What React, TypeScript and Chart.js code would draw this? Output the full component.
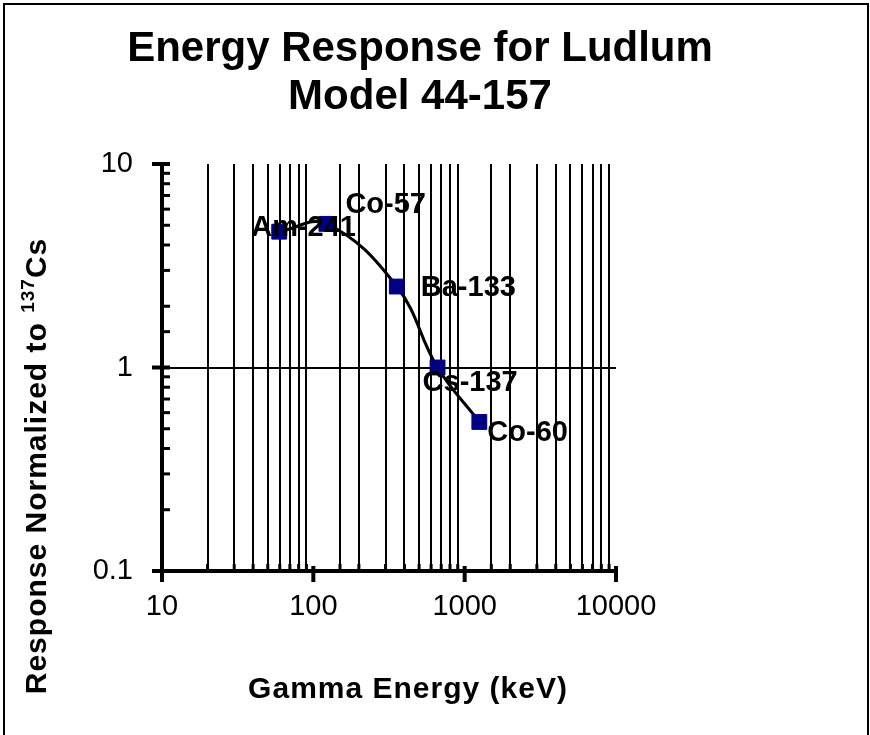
import React, { useEffect, useRef } from 'react';
import { Chart, registerables } from 'chart.js';

Chart.register(...registerables);

// ---- data ----
const isotopes = ['Am-241', 'Co-57', 'Ba-133', 'Cs-137', 'Co-60'];
const energiesKeV = [59.5, 122, 356, 662, 1250];
const responses = [4.65, 5.08, 2.5, 1.0, 0.54];
const xTickLabels = ['10', '100', '1000', '10000'];
const yTickLabels = ['0.1', '1', '10'];
const titleLines = ['Energy Response for Ludlum', 'Model 44-157'];
const xAxisTitle = 'Gamma Energy (keV)';
const yAxisTitleParts = ['Response Normalized to ', '137', 'Cs'];

// label placement relative to each marker (text left edge, text middle), px
const labelOffsets = [
  [-28, -4],
  [19, -19],
  [24, 1],
  [-15, 15],
  [8, 11],
];

const FONT = '"Liberation Sans", Arial, sans-serif';

const isPow10 = (v: number) => {
  const l = Math.log10(v);
  return Math.abs(l - Math.round(l)) < 1e-9;
};

const findLabel = (labels: string[], v: number) =>
  labels.find((l) => Math.abs(Number(l) - v) < 1e-9) ?? '';

const decorPlugin = {
  id: 'decor',
  afterDraw(chart: any) {
    const { ctx, chartArea: a } = chart;
    const xs = chart.scales.x;
    const ys = chart.scales.y;
    ctx.save();
    ctx.strokeStyle = '#000';
    ctx.fillStyle = '#000';

    // outer frame
    ctx.lineWidth = 2;
    ctx.strokeRect(4, 4, 864, 800);

    const seg = (x1: number, y1: number, x2: number, y2: number, w: number) => {
      ctx.lineWidth = w;
      ctx.beginPath();
      ctx.moveTo(x1, y1);
      ctx.lineTo(x2, y2);
      ctx.stroke();
    };

    // axis lines
    seg(a.left, a.top - 2, a.left, a.bottom + 2, 4);
    seg(a.left - 2, a.bottom, a.right + 2, a.bottom, 4);

    // x tick marks
    xs.ticks.forEach((t: any) => {
      const px = xs.getPixelForValue(t.value);
      if (isPow10(t.value)) seg(px, a.bottom - 5, px, a.bottom + 11, 4);
      else seg(px, a.bottom - 7, px, a.bottom, 3);
    });
    // y tick marks
    ys.ticks.forEach((t: any) => {
      const py = ys.getPixelForValue(t.value);
      if (isPow10(t.value)) seg(a.left - 10, py, a.left + 8, py, 4);
      else seg(a.left, py, a.left + 8, py, 3);
    });

    // title
    ctx.textAlign = 'center';
    ctx.textBaseline = 'alphabetic';
    ctx.font = `bold 42px ${FONT}`;
    ctx.fillText(titleLines[0], 420, 61);
    ctx.fillText(titleLines[1], 420, 109);

    // x axis title
    ctx.font = `bold 30px ${FONT}`;
    (ctx as any).letterSpacing = '1px';
    ctx.textBaseline = 'middle';
    ctx.fillText(xAxisTitle, 408, 690);

    // y axis title (rotated, with superscript)
    ctx.save();
    ctx.translate(38, 466);
    ctx.rotate(-Math.PI / 2);
    ctx.textAlign = 'left';
    ctx.textBaseline = 'middle';
    const mainFont = `bold 30px ${FONT}`;
    const supFont = `bold 19px ${FONT}`;
    ctx.font = mainFont;
    const w0 = ctx.measureText(yAxisTitleParts[0]).width;
    const w2 = ctx.measureText(yAxisTitleParts[2]).width;
    ctx.font = supFont;
    const w1 = ctx.measureText(yAxisTitleParts[1]).width;
    let cx = -(w0 + w1 + w2) / 2;
    ctx.font = mainFont;
    ctx.fillText(yAxisTitleParts[0], cx, 0);
    cx += w0;
    ctx.font = supFont;
    ctx.fillText(yAxisTitleParts[1], cx, -9);
    cx += w1;
    ctx.font = mainFont;
    ctx.fillText(yAxisTitleParts[2], cx, 0);
    ctx.restore();
    (ctx as any).letterSpacing = '0px';

    // data labels
    const meta = chart.getDatasetMeta(0);
    ctx.font = `bold 29px ${FONT}`;
    ctx.textAlign = 'left';
    ctx.textBaseline = 'middle';
    meta.data.forEach((pt: any, i: number) => {
      const [dx, dy] = labelOffsets[i];
      ctx.fillText(isotopes[i], pt.x + dx, pt.y + dy);
    });

    ctx.restore();
  },
};

export default function App() {
  const ref = useRef<HTMLCanvasElement>(null);

  useEffect(() => {
    const canvas = ref.current;
    if (!canvas) return;
    const chart = new Chart(canvas, {
      type: 'scatter',
      data: {
        datasets: [
          {
            data: energiesKeV.map((e, i) => ({ x: e, y: responses[i] })),
            showLine: true,
            tension: 0.4,
            borderColor: '#000',
            borderWidth: 3,
            pointStyle: 'rect',
            pointRadius: 10.5,
            pointBackgroundColor: '#000080',
            pointBorderColor: '#000080',
            pointBorderWidth: 1,
          },
        ],
      },
      options: {
        responsive: false,
        animation: false,
        devicePixelRatio: 1,
        events: [],
        layout: { padding: { left: 0, top: 164, right: 254, bottom: 0 } },
        plugins: {
          legend: { display: false },
          tooltip: { enabled: false },
          title: { display: false },
        },
        scales: {
          x: {
            type: 'logarithmic',
            min: 10,
            max: 10000,
            afterFit: (s: any) => {
              s.height = 164;
            },
            border: { display: false },
            grid: {
              drawTicks: false,
              lineWidth: 2,
              color: (c: any) => (c.tick && !isPow10(c.tick.value) ? '#000' : 'rgba(0,0,0,0)'),
            },
            ticks: {
              autoSkip: false,
              maxRotation: 0,
              padding: 19,
              color: '#000',
              font: { family: FONT, size: 29 },
              callback: (v: any) => findLabel(xTickLabels, Number(v)),
            },
          },
          y: {
            type: 'logarithmic',
            min: 0.1,
            max: 10,
            afterFit: (s: any) => {
              s.width = 162;
            },
            border: { display: false },
            grid: {
              drawTicks: false,
              lineWidth: 2,
              color: (c: any) => (c.tick && Math.abs(c.tick.value - 1) < 1e-9 ? '#000' : 'rgba(0,0,0,0)'),
            },
            ticks: {
              autoSkip: false,
              padding: 29,
              color: '#000',
              font: { family: FONT, size: 29 },
              callback: (v: any) => findLabel(yTickLabels, Number(v)),
            },
          },
        },
      },
      plugins: [decorPlugin],
    } as any);
    return () => chart.destroy();
  }, []);

  return (
    <div style={{ position: 'absolute', left: 0, top: 0, width: 870, height: 735, background: '#fff', overflow: 'hidden' }}>
      <canvas ref={ref} width={870} height={735} style={{ display: 'block', width: 870, height: 735 }} />
    </div>
  );
}
